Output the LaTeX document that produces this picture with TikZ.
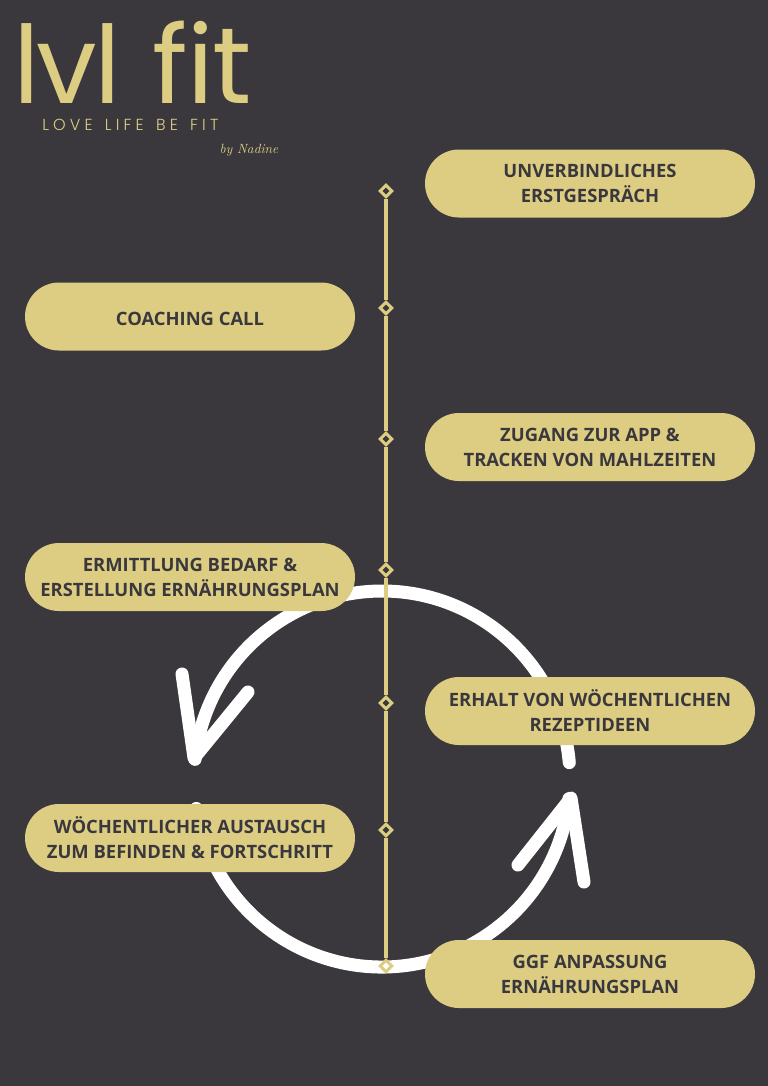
\documentclass[tikz,border=0pt]{standalone}
\usepackage{fontspec}
\usepackage{tikz}
\usetikzlibrary{shapes.geometric}
\setmainfont{Open Sans}
\newfontfamily\logofont{Poppins}
\newfontfamily\tagfont{Poppins Light}[WordSpace=1.44,LetterSpace=26]
\definecolor{bgdark}{HTML}{3A383D}
\definecolor{gold}{HTML}{DDCD83}
\tikzset{
  pill/.style={fill=gold, text=bgdark, rounded corners=25.5pt, minimum width=247.5pt, minimum height=51pt, align=center, inner sep=0pt, font=\fontsize{13.8}{18.75}\selectfont\bfseries, execute at begin node={\rule{0pt}{13pt}}},
  stop/.style={draw=gold, line width=2.2pt, diamond, aspect=1, minimum size=9.5pt, inner sep=0pt},
  rail/.style={draw=gold, line width=3pt},
  loopline/.style={draw=white, line width=9.75pt, line cap=round, line join=round}
}
\begin{document}
\begin{tikzpicture}[x=0.75pt,y=-0.75pt]
\useasboundingbox (0,0) rectangle (768,1086);
\fill[bgdark] (0,0) rectangle (768,1086);

% loop
\coordinate (c) at (382,779);
\coordinate (tipL) at (194,758);
\coordinate (barbL1) at (182,674);
\coordinate (barbL2) at (248,692);
\coordinate (tipR) at (571,798);
\coordinate (barbR1) at (518,865);
\coordinate (barbR2) at (584,882);
\draw[loopline] (c) ++(-5:188) arc[start angle=-5,end angle=-174,radius=188];
\draw[loopline] (c) ++(171:188) arc[start angle=171,end angle=6,radius=188];
\draw[loopline] (barbL1) -- (tipL) -- (barbL2);
\draw[loopline] (barbR1) -- (tipR) -- (barbR2);

% timeline
\node[stop] (s1) at (386,191) {};
\node[stop] (s2) at (386,308) {};
\node[stop] (s3) at (386,439) {};
\node[stop] (s4) at (386,570) {};
\node[stop] (s5) at (386,703) {};
\node[stop] (s6) at (386,830) {};
\node[stop] (s7) at (386,966) {};
\path[rail] (s1) -- (s2);
\path[rail] (s2) -- (s3);
\path[rail] (s3) -- (s4);
\path[rail] (s4) -- (s5);
\path[rail] (s5) -- (s6);
\path[rail] (s6) -- (s7);

% boxes
\node[pill] (p1) at (590,183.5) {UNVERBINDLICHES\\ERSTGESPRÄCH};
\node[pill] (p2) at (190,316.5) {COACHING CALL};
\node[pill] (p3) at (590,447) {ZUGANG ZUR APP \&\\TRACKEN VON MAHLZEITEN};
\node[pill] (p4) at (190,577) {ERMITTLUNG BEDARF \&\\ERSTELLUNG ERNÄHRUNGSPLAN};
\node[pill] (p5) at (590,711) {ERHALT VON WÖCHENTLICHEN\\REZEPTIDEEN};
\node[pill] (p6) at (190,838) {WÖCHENTLICHER AUSTAUSCH\\ZUM BEFINDEN \& FORTSCHRITT};
\node[pill] (p7) at (590,974) {GGF ANPASSUNG\\ERNÄHRUNGSPLAN};

% logo
\node[text=gold, inner sep=0pt, anchor=base west, text depth=0pt, font=\logofont\fontsize{81}{81}\selectfont] (logo) at (13,103) {{\addfontfeature{LetterSpace=-3}lvl}\hspace{24pt}{\addfontfeature{LetterSpace=-1}fit}};
\node[text=gold, inner sep=0pt, anchor=base west, text depth=0pt, font=\tagfont\fontsize{12}{12}\selectfont] (tag) at (42,130) {LOVE LIFE BE FIT};
\node[text=gold, inner sep=0pt, anchor=base, font=\fontspec{Latin Modern Roman}\itshape\fontsize{10}{10}\selectfont] (by) at (249,153) {by Nadine};
\end{tikzpicture}
\end{document}
